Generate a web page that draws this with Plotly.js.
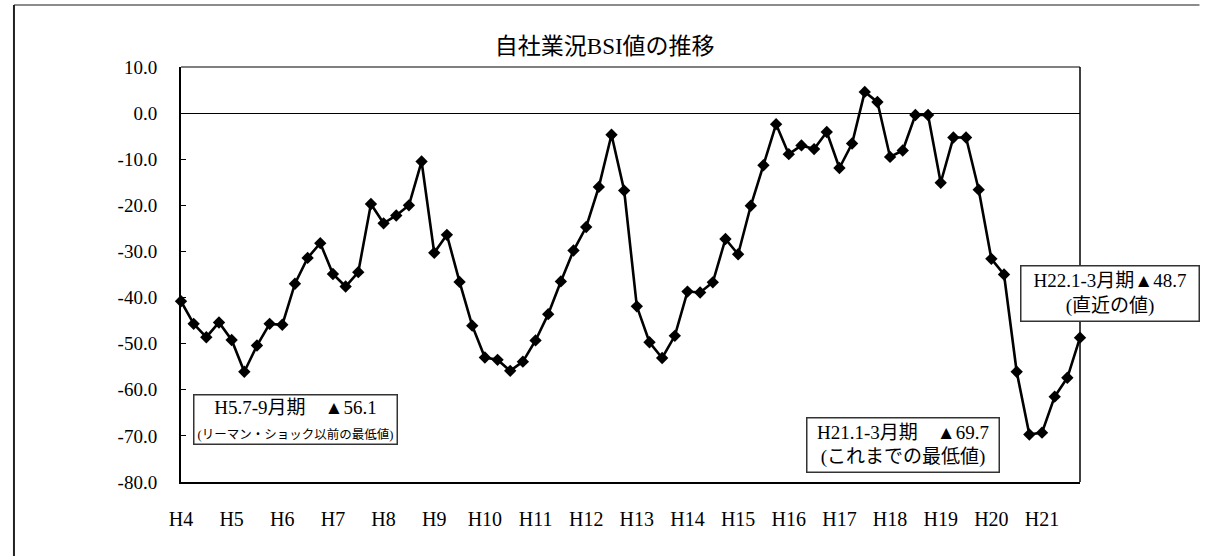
<!DOCTYPE html>
<html>
<head>
<meta charset="utf-8">
<script src="https://cdn.plot.ly/plotly-3.0.1.min.js"></script>
<style>html,body{margin:0;padding:0;background:#fff;}#chart{width:1207px;height:556px;}</style>
</head>
<body>
<div id="chart"></div>
<script>
// 自社業況BSI値 (quarterly, H4.4-6月期 … H22.1-3月期)
const bsiValues = [
  -40.8, -45.7, -48.6, -45.4, -49.2, -56.1, -50.4, -45.7, -45.9, -37.0,
  -31.4, -28.2, -34.9, -37.6, -34.5, -19.7, -23.9, -22.2, -20.0, -10.5,
  -30.3, -26.4, -36.6, -46.1, -53.0, -53.5, -55.9, -53.9, -49.3, -43.6,
  -36.5, -29.8, -24.7, -16.0, -4.7, -16.8, -41.9, -49.7, -53.1, -48.3,
  -38.7, -38.9, -36.7, -27.3, -30.6, -20.1, -11.3, -2.4, -8.9, -7.0,
  -7.8, -4.1, -11.9, -6.6, 4.6, 2.4, -9.5, -8.1, -0.4, -0.4,
  -15.1, -5.3, -5.3, -16.6, -31.6, -35.0, -56.1, -69.7, -69.3, -61.5,
  -57.4, -48.7
];
const yearLabels = ['H4','H5','H6','H7','H8','H9','H10','H11','H12','H13','H14','H15','H16','H17','H18','H19','H20','H21'];
const yTickValues = [10, 0, -10, -20, -30, -40, -50, -60, -70, -80];
const yTickLabels = ['10.0','0.0','-10.0','-20.0','-30.0','-40.0','-50.0','-60.0','-70.0','-80.0'];
const titleText = '自社業況BSI値の推移';
const noteLow1 = ['H5.7-9月期　▲56.1', '(リーマン・ショック以前の最低値)'];
const noteLow2 = ['H21.1-3月期　▲69.7', '(これまでの最低値)'];
const noteLatest = ['H22.1-3月期▲48.7', '(直近の値)'];

const xIdx = bsiValues.map((v, i) => i);
const xTickVals = yearLabels.map((l, i) => i * 4);

const FONT = 'Liberation Serif, "Noto Sans CJK JP", serif';

const trace = {
  x: xIdx, y: bsiValues, type: 'scatter', mode: 'lines+markers',
  line: {color: '#000', width: 2.6},
  marker: {symbol: 'diamond', size: 9.5, color: '#000'},
  cliponaxis: false, hoverinfo: 'skip'
};

const boxStyle = {
  xref: 'paper', yref: 'paper', showarrow: false,
  bgcolor: '#fff', bordercolor: '#333', borderwidth: 1.5,
  xanchor: 'center', yanchor: 'middle', align: 'center',
  font: {family: FONT, size: 19, color: '#000'}
};

const layout = {
  width: 1207, height: 556,
  margin: {l: 181, r: 127, t: 67, b: 74},
  paper_bgcolor: '#fff', plot_bgcolor: '#fff',
  showlegend: false,
  title: {
    text: titleText, xref: 'container', yref: 'container',
    x: 0.501, y: 0.917, xanchor: 'center', yanchor: 'middle',
    font: {family: FONT, size: 23, color: '#000'}
  },
  xaxis: {
    range: [0, 71], showgrid: false, zeroline: false,
    showline: true, linecolor: '#000', linewidth: 2,
    tickvals: xTickVals, ticktext: yearLabels, ticks: '',
    ticklabelstandoff: 18,
    tickfont: {family: FONT, size: 20, color: '#000'}
  },
  yaxis: {
    range: [-80, 10], showgrid: false,
    zeroline: true, zerolinecolor: '#000', zerolinewidth: 1.2,
    showline: true, linecolor: '#000', linewidth: 2,
    tickvals: yTickValues, ticktext: yTickLabels,
    ticks: 'inside', ticklen: 5, tickcolor: '#000', tickwidth: 1,
    ticklabelstandoff: 18,
    tickfont: {family: FONT, size: 19, color: '#000'}
  },
  shapes: [
    {type: 'line', xref: 'paper', yref: 'paper', x0: 0, x1: 1, y0: 1, y1: 1, line: {color: '#000', width: 1.2}},
    {type: 'line', xref: 'paper', yref: 'paper', x0: 1, x1: 1, y0: 0, y1: 1, line: {color: '#000', width: 1.5}},
    {type: 'line', xref: 'paper', yref: 'paper', x0: -0.1858, x1: 1.1329, y0: 1.1494, y1: 1.1494, line: {color: '#666', width: 1.5}},
    {type: 'line', xref: 'paper', yref: 'paper', x0: -0.1858, x1: -0.1858, y0: 1.1494, y1: -0.1783, line: {color: '#222', width: 2}}
  ],
  annotations: [
    Object.assign({}, boxStyle, {
      x: 0.1274, y: 0.1506, width: 200, height: 46,
      text: noteLow1[0] + '<br><span style="font-size:12.5px">' + noteLow1[1] + '</span>'
    }),
    Object.assign({}, boxStyle, {
      x: 0.8031, y: 0.0892, width: 189, height: 51,
      text: noteLow2[0] + '<br>' + noteLow2[1]
    }),
    Object.assign({}, boxStyle, {
      x: 1.0334, y: 0.4542, width: 175, height: 52,
      text: noteLatest[0] + '<br>' + noteLatest[1]
    })
  ]
};

Plotly.newPlot('chart', [trace], layout, {displayModeBar: false, staticPlot: true});
</script>
</body>
</html>
